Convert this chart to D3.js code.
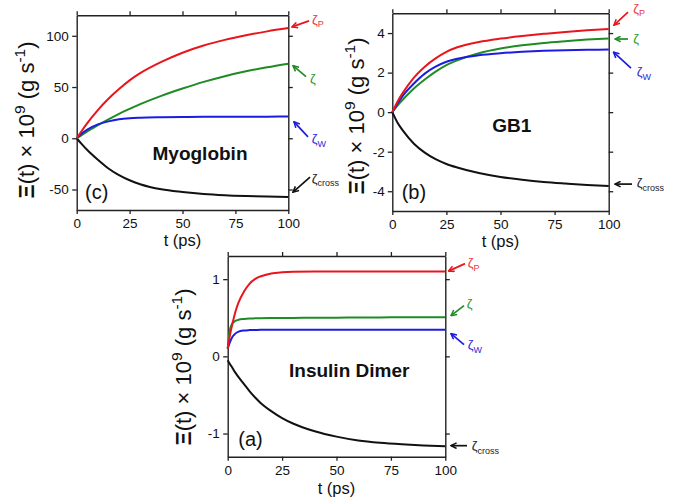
<!DOCTYPE html>
<html><head><meta charset="utf-8">
<script src="https://cdn.jsdelivr.net/npm/d3@7"></script>
<style>body{margin:0;background:#fff} svg{display:block}</style>
</head><body><svg id="chart" width="689" height="502"></svg>
<script>
// ---------- data ----------
const xTicks = [0, 25, 50, 75, 100];

// Myoglobin (c)
const tMyo = [0, 2.5, 5, 10, 15, 20, 25, 30, 40, 50, 60, 70, 80, 90, 100];
const myoZetaP     = [0, 7.6, 14.8, 27.5, 38.5, 48, 56.5, 63.5, 74.5, 83.5, 90.5, 96, 100.5, 104.3, 107.5];
const myoZeta      = [0, 3.4, 6.6, 12.8, 18.5, 23.9, 28.7, 33.3, 41.4, 48.5, 55, 60.6, 65.3, 69.3, 72.8];
const myoZetaW     = [0, 5, 8.5, 13.5, 16.5, 18.5, 19.5, 20, 20.5, 20.8, 21, 21, 21.1, 21.1, 21.2];
const myoZetaCross = [0, -6, -11.5, -21, -29.5, -36, -41, -44.8, -49.8, -52.4, -54.3, -55.5, -56.3, -56.9, -57.3];
const myoYTicks = [-50, 0, 50, 100];

// GB1 (b)
const tGB1 = [0, 2.5, 5, 10, 15, 20, 25, 30, 40, 50, 60, 70, 80, 90, 100];
const gb1ZetaP     = [0, 0.55, 1.0, 1.75, 2.3, 2.72, 3.05, 3.28, 3.55, 3.72, 3.85, 3.96, 4.06, 4.14, 4.21];
const gb1Zeta      = [0, 0.35, 0.65, 1.2, 1.65, 2.05, 2.38, 2.62, 2.98, 3.22, 3.38, 3.5, 3.59, 3.67, 3.73];
const gb1ZetaW     = [0, 0.45, 0.85, 1.45, 1.95, 2.3, 2.55, 2.7, 2.88, 2.98, 3.05, 3.1, 3.13, 3.15, 3.17];
const gb1ZetaCross = [0, -0.55, -0.95, -1.6, -2.05, -2.38, -2.62, -2.8, -3.08, -3.28, -3.42, -3.53, -3.61, -3.68, -3.73];
const gb1YTicks = [-4, -2, 0, 2, 4];

// Insulin dimer (a)
const tIns = [0, 1, 2, 3, 4, 5, 7.5, 10, 12.5, 15, 20, 25, 30, 40, 50, 60, 70, 80, 90, 100];
const insZetaP     = [0.1, 0.27, 0.4, 0.52, 0.62, 0.7, 0.84, 0.94, 1.0, 1.035, 1.074, 1.089, 1.096, 1.1, 1.1, 1.1, 1.1, 1.1, 1.1, 1.1];
const insZeta      = [0.1, 0.34, 0.42, 0.45, 0.465, 0.475, 0.485, 0.49, 0.492, 0.494, 0.496, 0.497, 0.498, 0.5, 0.501, 0.503, 0.504, 0.506, 0.507, 0.508];
const insZetaW     = [0.1, 0.18, 0.245, 0.28, 0.305, 0.32, 0.335, 0.34, 0.342, 0.343, 0.344, 0.345, 0.345, 0.345, 0.345, 0.345, 0.345, 0.345, 0.345, 0.345];
const insZetaCross = [-0.05, -0.1, -0.14, -0.19, -0.23, -0.27, -0.36, -0.45, -0.53, -0.6, -0.71, -0.8, -0.87, -0.97, -1.04, -1.09, -1.12, -1.14, -1.155, -1.165];
const insYTicks = [-1, 0, 1];

const seriesKeys = ['P', 'Z', 'W', 'X'];
const subLabels = {P: 'P', Z: '', W: 'W', X: 'cross'};

// ---------- styles / layout ----------
const FONT = "'Liberation Sans', Arial, Helvetica, sans-serif";
const lineColors = {P: '#e8161c', Z: '#1f8b24', W: '#1c1ce0', X: '#111111'};
const textColors = {P: '#e8393d', Z: '#2a9a2e', W: '#2b2bd8', X: '#222222'};

const panels = [
  { name: 'Myoglobin', tag: '(c)', t: tMyo,
    data: {P: myoZetaP, Z: myoZeta, W: myoZetaW, X: myoZetaCross},
    yDomain: [-70, 120], yTicks: myoYTicks,
    box: {l: 76.7, t: 15.3, r: 288.3, b: 210}, tickPad: 3.5,
    nameX: 200, nameY: 160.3, tagX: 85, tagY: 199,
    ylabX: 33.5, ylabY: 120, xlabY: 245.5,
    ann: {
      P: {h: [3.7, -1.2], tl: [20.7, -7.2], tx: [23.7, -4.5]},
      Z: {h: [4.7, 2], tl: [17.7, 13], tx: [21.7, 19.5]},
      W: {h: [5.7, 5.3], tl: [19.7, 20.3], tx: [23.4, 26.5]},
      X: {h: [4.7, -4.8], tl: [21.7, -19.8], tx: [23.4, -14]}
    }},
  { name: 'GB1', tag: '(b)', t: tGB1,
    data: {P: gb1ZetaP, Z: gb1Zeta, W: gb1ZetaW, X: gb1ZetaCross},
    yDomain: [-5, 5], yTicks: gb1YTicks,
    box: {l: 392.3, t: 13.3, r: 608.7, b: 211}, tickPad: 3,
    nameX: 511.7, nameY: 132.3, tagX: 401.7, tagY: 199,
    ylabX: 363.5, ylabY: 116, xlabY: 246.5,
    ann: {
      P: {h: [5.3, -3.9], tl: [19.3, -16.9], tx: [24.6, -16.3]},
      Z: {h: [6.3, 0.6], tl: [19.3, 0.6], tx: [24.6, 4.6]},
      W: {h: [4.8, 2.6], tl: [22.3, 18.6], tx: [28, 27]},
      X: {h: [6.3, -1.8], tl: [23.3, -1.8], tx: [28, 1.5]}
    }},
  { name: 'Insulin Dimer', tag: '(a)', t: tIns,
    data: {P: insZetaP, Z: insZeta, W: insZetaW, X: insZetaCross},
    yDomain: [-1.3, 1.3], yTicks: insYTicks,
    box: {l: 227.7, t: 256, r: 445.3, b: 456.7}, tickPad: 3.5,
    nameX: 349.2, nameY: 376.7, tagX: 238.3, tagY: 445.5,
    ylabX: 190.5, ylabY: 367, xlabY: 494,
    ann: {
      P: {h: [3.2, -0.3], tl: [19.7, -7.8], tx: [22.4, -4.3]},
      Z: {h: [5.7, -1.5], tl: [18.7, -11.5], tx: [21.4, -9]},
      W: {h: [5.7, 3.9], tl: [18.7, 14.9], tx: [22.4, 19.5]},
      X: {h: [5.7, -0.6], tl: [21.7, -0.6], tx: [26.4, 4]}
    }}
];

// ---------- drawing ----------
const svg = d3.select('#chart');
svg.append('rect').attr('width', 689).attr('height', 502).attr('fill', '#fff');

const defs = svg.append('defs');
seriesKeys.forEach(k => {
  defs.append('marker')
    .attr('id', 'arrow-' + k)
    .attr('viewBox', '0 0 10 10')
    .attr('refX', 9).attr('refY', 5)
    .attr('markerWidth', 7).attr('markerHeight', 7)
    .attr('markerUnits', 'userSpaceOnUse')
    .attr('orient', 'auto')
    .append('path')
    .attr('d', 'M1,1 L9,5 L1,9')
    .attr('fill', 'none')
    .attr('stroke', lineColors[k])
    .attr('stroke-width', 2.2)
    .attr('stroke-linejoin', 'miter');
});

panels.forEach(p => {
  const b = p.box;
  const x = d3.scaleLinear().domain([0, 100]).range([b.l, b.r]);
  const y = d3.scaleLinear().domain(p.yDomain).range([b.b, b.t]);
  const g = svg.append('g');

  const styleAxis = sel => {
    sel.selectAll('.domain').attr('stroke', '#222').attr('stroke-width', 1.4);
    sel.selectAll('.tick line').attr('stroke', '#222').attr('stroke-width', 1.3);
    sel.selectAll('.tick text').attr('fill', '#111').attr('font-family', FONT);
  };

  // bottom
  g.append('g').attr('transform', `translate(0,${b.b})`)
    .call(d3.axisBottom(x).tickValues(xTicks).tickSize(4).tickSizeOuter(0).tickPadding(4.5))
    .call(styleAxis)
    .call(s => s.selectAll('.tick text').attr('font-size', 13.5));
  // top
  g.append('g').attr('transform', `translate(0,${b.t})`)
    .call(d3.axisTop(x).tickValues(xTicks).tickSize(4).tickSizeOuter(0).tickFormat(''))
    .call(styleAxis);
  // left
  g.append('g').attr('transform', `translate(${b.l},0)`)
    .call(d3.axisLeft(y).tickValues(p.yTicks).tickSize(4.5).tickSizeOuter(0).tickPadding(p.tickPad).tickFormat(d3.format('d')))
    .call(styleAxis)
    .call(s => s.selectAll('.tick text').attr('font-size', 13.5).text(d => d < 0 ? '-' + Math.abs(d) : d));
  // right
  g.append('g').attr('transform', `translate(${b.r},0)`)
    .call(d3.axisRight(y).tickValues(p.yTicks).tickSize(4.5).tickSizeOuter(0).tickFormat(''))
    .call(styleAxis);

  // curves
  const line = d3.line().x(d => x(d[0])).y(d => y(d[1])).curve(d3.curveMonotoneX);
  ['X', 'Z', 'W', 'P'].forEach(k => {
    const pts = p.t.map((t, i) => [t, p.data[k][i]]);
    g.append('path').datum(pts)
      .attr('d', line)
      .attr('fill', 'none')
      .attr('stroke', lineColors[k])
      .attr('stroke-width', 2)
      .attr('stroke-linejoin', 'round');
  });

  // annotations
  seriesKeys.forEach(k => {
    const vals = p.data[k];
    const ex = x(p.t[p.t.length - 1]);
    const ey = y(vals[vals.length - 1]);
    const a = p.ann[k];
    g.append('line')
      .attr('x1', ex + a.tl[0]).attr('y1', ey + a.tl[1])
      .attr('x2', ex + a.h[0]).attr('y2', ey + a.h[1])
      .attr('stroke', lineColors[k]).attr('stroke-width', 1.7)
      .attr('marker-end', `url(#arrow-${k})`);
    const tx = g.append('text')
      .attr('x', ex + a.tx[0]).attr('y', ey + a.tx[1])
      .attr('font-family', FONT).attr('fill', textColors[k]);
    tx.append('tspan').attr('font-size', 13).text('ζ');
    if (subLabels[k]) {
      tx.append('tspan').attr('font-size', 9).attr('dy', 3.5).text(subLabels[k]);
    }
  });

  // panel name and tag
  g.append('text').attr('x', p.nameX).attr('y', p.nameY)
    .attr('text-anchor', 'middle').attr('font-family', FONT)
    .attr('font-weight', 'bold').attr('font-size', 19).attr('fill', '#111')
    .text(p.name);
  g.append('text').attr('x', p.tagX).attr('y', p.tagY)
    .attr('font-family', FONT).attr('font-size', 20).attr('fill', '#111')
    .text(p.tag);

  // x label
  g.append('text').attr('x', (b.l + b.r) / 2).attr('y', p.xlabY)
    .attr('text-anchor', 'middle').attr('font-family', FONT)
    .attr('font-size', 16.5).attr('fill', '#111').text('t (ps)');

  // y label
  const yl = g.append('text')
    .attr('transform', `translate(${p.ylabX},${p.ylabY}) rotate(-90)`)
    .attr('text-anchor', 'middle').attr('font-family', FONT)
    .attr('font-size', 22).attr('fill', '#111');
  yl.append('tspan').attr('font-weight', 'bold').text('Ξ');
  yl.append('tspan').text('(t) × 10');
  yl.append('tspan').attr('font-size', 15.5).attr('dy', -8.5).text('9');
  yl.append('tspan').attr('dy', 8.5).text(' (g s');
  yl.append('tspan').attr('font-size', 15.5).attr('dy', -8.5).text('-1');
  yl.append('tspan').attr('dy', 8.5).text(')');
});
</script>
</body></html>
